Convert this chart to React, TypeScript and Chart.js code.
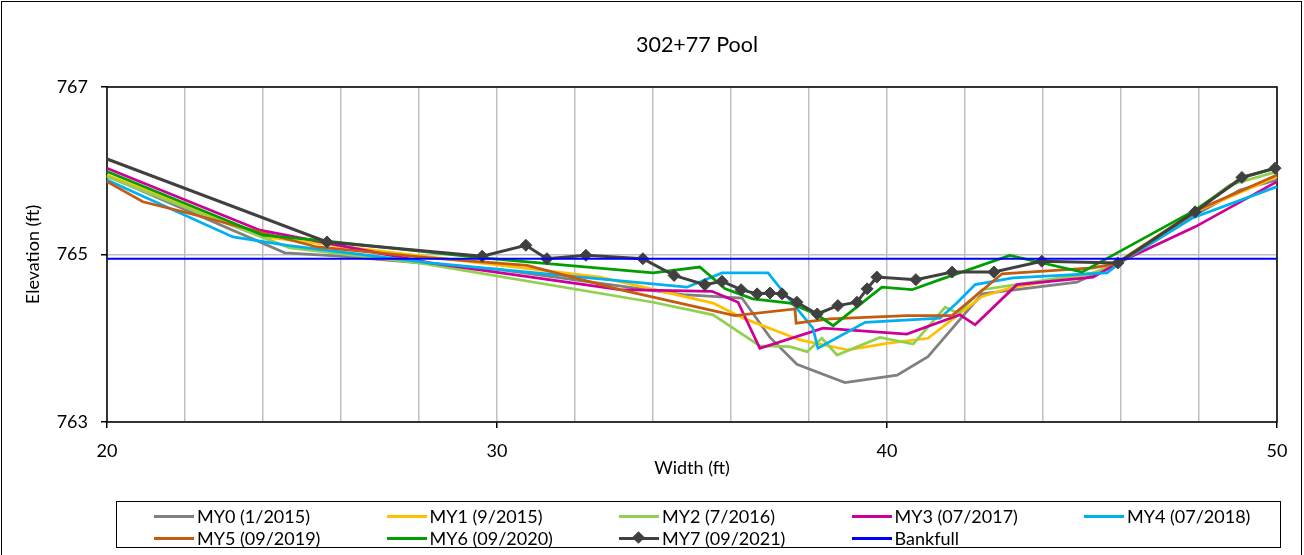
import React, { useEffect, useRef } from "react";
import { Chart, registerables } from "chart.js";

Chart.register(...registerables);

const FONT = "Lato, 'Noto Sans', sans-serif";

const chartTitle = "302+77 Pool";
const xAxisTitle = "Width (ft)";
const yAxisTitle = "Elevation (ft)";
const xMin = 20;
const xMax = 50;
const xLabelValues = [20, 30, 40, 50];
const yMin = 763;
const yMax = 767;

const seriesNames = [
  "MY0 (1/2015)",
  "MY1 (9/2015)",
  "MY2 (7/2016)",
  "MY3 (07/2017)",
  "MY4 (07/2018)",
  "MY5 (09/2019)",
  "MY6 (09/2020)",
  "MY7 (09/2021)",
  "Bankfull",
];
const seriesColors = ["#808080", "#ffc000", "#92d050", "#cc0099", "#00b0f0", "#c55a11", "#009e00", "#404040", "#0000ff"];

const my0X = [20, 24.56, 25.97, 30.08, 34.77, 36.28, 37.0, 37.69, 38.92, 40.26, 41.05, 41.9, 42.44, 44.87, 45.92, 47.9, 49.05, 50];
const my0Y = [765.94, 765.02, 764.98, 764.82, 764.52, 764.48, 764.01, 763.69, 763.47, 763.56, 763.78, 764.24, 764.53, 764.67, 764.9, 765.47, 765.77, 765.89];

const my1X = [20, 24.18, 29.56, 32.64, 35.54, 36.31, 37.77, 39.0, 40.0, 41.05, 42.44, 43.15, 45.46, 45.97, 47.9, 50];
const my1Y = [765.95, 765.2, 764.9, 764.73, 764.42, 764.24, 763.98, 763.86, 763.94, 764.0, 764.5, 764.6, 764.79, 764.93, 765.51, 765.93];

const my2X = [20, 23.23, 24.69, 28.0, 34.0, 35.54, 36.74, 37.51, 37.95, 38.33, 38.72, 39.82, 40.67, 41.49, 41.82, 42.44, 45.28, 45.97, 47.85, 48.79, 50];
const my2Y = [765.93, 765.34, 765.08, 764.9, 764.43, 764.28, 763.91, 763.9, 763.84, 764.0, 763.8, 764.01, 763.93, 764.37, 764.3, 764.58, 764.78, 764.91, 765.51, 765.83, 765.99];

const my3X = [20, 23.92, 28.28, 33.15, 35.51, 36.18, 36.74, 38.36, 40.51, 41.87, 42.26, 43.33, 45.28, 45.97, 47.9, 50];
const my3Y = [766.03, 765.29, 764.9, 764.58, 764.56, 764.43, 763.88, 764.12, 764.05, 764.28, 764.16, 764.64, 764.73, 764.91, 765.33, 765.87];

const my4X = [20, 23.23, 24.62, 28.28, 34.87, 35.77, 36.95, 37.26, 38.1, 38.23, 39.44, 41.36, 41.79, 42.26, 43.23, 45.64, 45.97, 47.85, 50];
const my4Y = [765.89, 765.21, 765.11, 764.9, 764.61, 764.78, 764.78, 764.6, 764.12, 763.88, 764.19, 764.24, 764.42, 764.64, 764.72, 764.78, 764.9, 765.44, 765.81];

const my5X = [20, 20.92, 21.95, 25.38, 28.28, 30.77, 33.15, 36.1, 37.64, 37.67, 38.54, 40.51, 41.67, 42.95, 45.28, 45.97, 47.9, 50];
const my5Y = [765.87, 765.63, 765.51, 765.09, 764.96, 764.87, 764.58, 764.27, 764.35, 764.18, 764.23, 764.27, 764.27, 764.77, 764.84, 764.9, 765.52, 765.95];

const my6X = [20, 24.0, 25.64, 29.62, 34.0, 35.2, 35.85, 36.56, 37.51, 38.21, 38.62, 39.87, 40.64, 41.36, 43.15, 45.0, 47.9, 49.18, 49.95];
const my6Y = [765.99, 765.23, 765.16, 764.96, 764.78, 764.85, 764.59, 764.47, 764.42, 764.28, 764.15, 764.61, 764.58, 764.7, 764.99, 764.79, 765.53, 765.93, 766.03];

const my7X = [20, 25.64, 29.62, 30.74, 31.28, 32.28, 33.74, 34.54, 35.33, 35.77, 36.26, 36.67, 37.0, 37.31, 37.69, 38.21, 38.74, 39.23, 39.49, 39.74, 40.74, 41.67, 42.74, 43.97, 45.92, 47.9, 49.1, 49.95];
const my7Y = [766.14, 765.15, 764.98, 765.11, 764.95, 764.99, 764.95, 764.75, 764.64, 764.68, 764.58, 764.53, 764.54, 764.53, 764.43, 764.29, 764.39, 764.43, 764.59, 764.73, 764.7, 764.79, 764.79, 764.92, 764.9, 765.51, 765.92, 766.03];

const bankfullX = [20, 50];
const bankfullY = [764.95, 764.95];

const seriesX = [my0X, my1X, my2X, my3X, my4X, my5X, my6X, my7X, bankfullX];
const seriesY = [my0Y, my1Y, my2Y, my3Y, my4Y, my5Y, my6Y, my7Y, bankfullY];

const plotBorder = {
  id: "plotBorder",
  beforeDatasetsDraw(chart: any) {
    const { ctx, chartArea } = chart;
    ctx.save();
    ctx.strokeStyle = "#000";
    ctx.lineWidth = 1.5;
    ctx.strokeRect(chartArea.left, chartArea.top, chartArea.right - chartArea.left, chartArea.bottom - chartArea.top);
    ctx.restore();
  },
};

export default function App() {
  const canvasRef = useRef<HTMLCanvasElement | null>(null);

  useEffect(() => {
    document.body.style.margin = "0";
    document.body.style.overflow = "hidden";
    const canvas = canvasRef.current;
    if (!canvas) return;
    const datasets = seriesNames.map((name, i) => {
      const isMY7 = i === 7;
      const isBank = i === 8;
      return {
        label: name,
        data: seriesX[i].map((x, j) => ({ x, y: seriesY[i][j] })),
        borderColor: seriesColors[i],
        backgroundColor: seriesColors[i],
        borderWidth: isBank ? 2 : isMY7 ? 3 : 2.75,
        pointRadius: isMY7 ? seriesX[i].map((_, j) => (j === 0 ? 0 : 6)) : 0,
        pointStyle: "rectRot",
        pointBorderWidth: 1,
        pointBorderColor: seriesColors[i],
        pointBackgroundColor: seriesColors[i],
        fill: false,
        tension: 0,
        order: 8 - i,
        clip: isMY7 ? 8 : 2,
      };
    });
    const chart = new Chart(canvas, {
      type: "line",
      data: { datasets },
      plugins: [plotBorder],
      options: {
        animation: false,
        responsive: false,
        devicePixelRatio: 1,
        layout: { padding: { left: 0, right: 27, top: 87, bottom: 0 } },
        plugins: {
          legend: { display: false },
          tooltip: { enabled: false },
          title: { display: false },
        },
        scales: {
          x: {
            type: "linear",
            min: xMin,
            max: xMax,
            afterFit: (s: any) => {
              s.height = 133;
            },
            border: { display: false },
            grid: {
              color: "#bfbfbf",
              lineWidth: 1.5,
              tickLength: 6,
              tickColor: (c: any) => (xLabelValues.includes(c.tick?.value) ? "#000" : "rgba(0,0,0,0)"),
            },
            ticks: {
              stepSize: 2,
              autoSkip: false,
              maxRotation: 0,
              padding: 12,
              color: "#000",
              font: { family: FONT, size: 18 },
              callback: (v: any) => (xLabelValues.includes(Number(v)) ? String(v) : ""),
            },
            title: {
              display: true,
              text: xAxisTitle,
              color: "#000",
              font: { family: FONT, size: 18 },
              padding: { top: 0, bottom: 76 },
            },
          },
          y: {
            type: "linear",
            min: yMin,
            max: yMax,
            afterFit: (s: any) => {
              s.width = 107;
            },
            border: { display: false },
            grid: {
              color: "#bfbfbf",
              lineWidth: 1.5,
              tickLength: 6,
              tickColor: "#000",
            },
            ticks: {
              stepSize: 2,
              padding: 13,
              color: "#000",
              font: { family: FONT, size: 18 },
            },
            title: {
              display: true,
              text: yAxisTitle,
              color: "#000",
              font: { family: FONT, size: 18 },
              padding: { top: 22, bottom: 0 },
            },
          },
        },
      },
    });
    return () => chart.destroy();
  }, []);

  return (
    <div style={{ position: "absolute", left: 0, top: 0, width: 1304, height: 555, background: "#fff", fontFamily: FONT }}>
      <canvas ref={canvasRef} width={1304} height={555} style={{ position: "absolute", left: 0, top: 0 }} />
      <div
        style={{
          position: "absolute",
          left: 0,
          top: 31,
          width: 1394,
          marginLeft: -0,
          textAlign: "center",
          fontSize: 21.5,
          lineHeight: "26px",
          color: "#000",
          whiteSpace: "nowrap",
        }}
      >
        {chartTitle}
      </div>
      <div
        style={{
          position: "absolute",
          left: 1,
          top: 1,
          width: 1301,
          height: 554,
          borderLeft: "1px solid #000",
          borderTop: "1px solid #000",
          borderRight: "1px solid #000",
          boxSizing: "border-box",
          pointerEvents: "none",
        }}
      />
      <div
        style={{
          position: "absolute",
          left: 116,
          top: 501,
          width: 1165,
          height: 47,
          border: "1px solid #000",
          boxSizing: "border-box",
        }}
      >
        {seriesNames.map((name, i) => {
          const col = i % 5;
          const row = Math.floor(i / 5);
          const left = 154 - 117 + col * 232.5;
          const top = row === 0 ? 14 : 36;
          return (
            <div key={name} style={{ position: "absolute", left, top: top - 12, height: 24, display: "flex", alignItems: "center", whiteSpace: "nowrap" }}>
              <div style={{ position: "relative", width: 40, height: 3, background: seriesColors[i], marginRight: 3 }}>
                {i === 7 ? (
                  <div
                    style={{
                      position: "absolute",
                      left: 15,
                      top: -3.5,
                      width: 9,
                      height: 9,
                      background: seriesColors[i],
                      transform: "rotate(45deg)",
                    }}
                  />
                ) : null}
              </div>
              <span style={{ fontSize: 18, color: "#000", lineHeight: "24px" }}>{name}</span>
            </div>
          );
        })}
      </div>
    </div>
  );
}
